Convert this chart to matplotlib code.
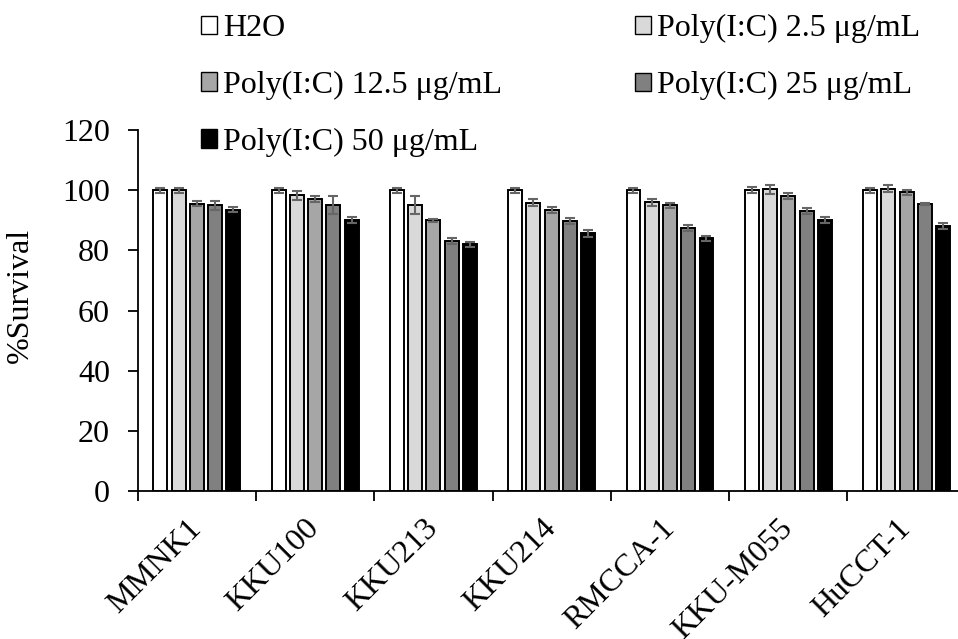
import matplotlib.pyplot as plt
from matplotlib.patches import Patch
import numpy as np

plt.rcParams['font.family'] = ['Liberation Serif', 'DejaVu Serif']
plt.rcParams['font.size'] = 23

cells = ['MMNK1', 'KKU100', 'KKU213', 'KKU214', 'RMCCA-1', 'KKU-M055', 'HuCCT-1']
series = ['H2O', 'Poly(I:C) 2.5 μg/mL', 'Poly(I:C) 12.5 μg/mL',
          'Poly(I:C) 25 μg/mL', 'Poly(I:C) 50 μg/mL']
colors = ['#ffffff', '#d9d9d9', '#a6a6a6', '#808080', '#000000']

h2o = [100, 100, 100, 100, 100, 100, 100]
pic_2_5 = [100, 98.3, 95, 95.8, 96, 100.3, 100.5]
pic_12_5 = [95.5, 97, 90, 93.5, 95, 98, 99.3]
pic_25 = [95, 95, 83, 89.7, 87.3, 93, 95.3]
pic_50 = [93.5, 90, 82, 85.7, 84, 90, 88]

err_h2o = [0.8, 0.8, 0.8, 0.8, 0.8, 1.0, 0.8]
err_2_5 = [0.8, 1.5, 3.0, 1.2, 1.2, 1.5, 1.2]
err_12_5 = [0.8, 1.0, 0.5, 1.0, 0.8, 1.0, 0.8]
err_25 = [1.5, 3.0, 1.0, 1.0, 1.0, 1.0, 0.3]
err_50 = [0.8, 1.0, 0.8, 1.2, 0.8, 1.0, 1.0]

means = [h2o, pic_2_5, pic_12_5, pic_25, pic_50]
errs = [err_h2o, err_2_5, err_12_5, err_25, err_50]

fig = plt.figure(figsize=(9.58, 6.39), dpi=100)
# axes runs a bit past the right edge, as in the original
ax = fig.add_axes([137.7 / 958, 148 / 639, 828 / 958, 361 / 639])

x = np.arange(len(cells)) + 0.5
pitch = 0.1543
width = 0.118
handles = []
for k in range(5):
    xs = x + (k - 2) * pitch
    ax.bar(xs, means[k], width, color=colors[k], edgecolor='black',
           linewidth=1.4, label=series[k], zorder=2)
    ax.errorbar(xs, means[k], yerr=errs[k], fmt='none', ecolor='#666666',
                elinewidth=1.5, capsize=3.6, capthick=1.5, zorder=3)
    handles.append(Patch(facecolor=colors[k], edgecolor='black', linewidth=1.0))

ax.set_xlim(0, 7)
ax.set_ylim(0, 120)
ax.set_yticks(range(0, 121, 20))
ax.set_xticks(range(0, 8))
ax.set_xticklabels([])
ax.set_xticks(x, minor=True)
ax.set_xticklabels(cells, minor=True, rotation=45, ha='right', va='center',
                   rotation_mode='anchor')
ax.tick_params(axis='x', which='minor', length=0, pad=24)
ax.tick_params(axis='x', which='major', length=7, width=1.3, direction='out')
ax.tick_params(axis='y', length=7, width=1.3, pad=13)
for s in ['top', 'right']:
    ax.spines[s].set_visible(False)
for s in ['left', 'bottom']:
    ax.spines[s].set_linewidth(1.3)

ax.set_ylabel('%Survival')
ax.yaxis.set_label_coords(-0.124, 0.543)

kw = dict(frameon=False, handlelength=0.5, handleheight=0.5,
          handletextpad=0.19, labelspacing=0.87, borderaxespad=0, borderpad=0)
fig.legend([handles[0], handles[2], handles[4]],
           [series[0], series[2], series[4]],
           loc='upper left', bbox_to_anchor=(201 / 958, 1 - 14 / 639), **kw)
fig.legend([handles[1], handles[3]], [series[1], series[3]],
           loc='upper left', bbox_to_anchor=(635 / 958, 1 - 14 / 639), **kw)

fig.savefig('out.png', dpi=100)
